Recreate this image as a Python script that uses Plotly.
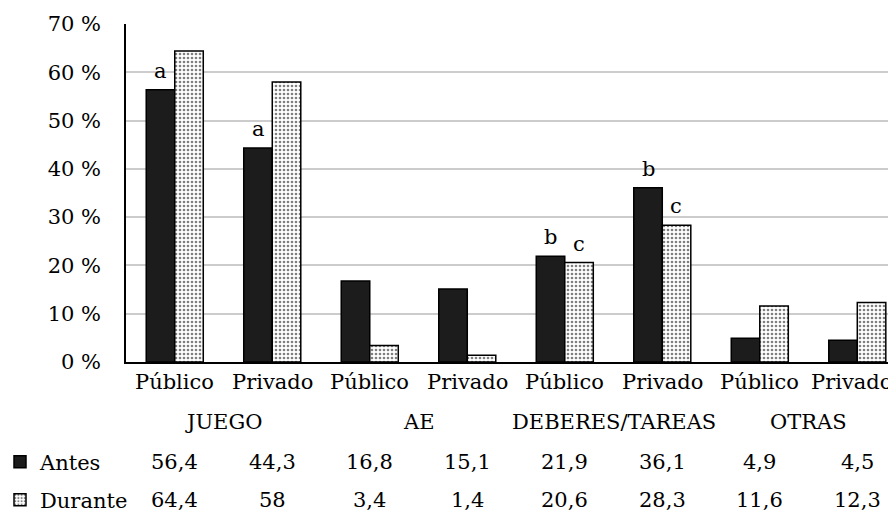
import plotly.graph_objects as go

subcats = ["Público", "Privado", "Público", "Privado", "Público", "Privado", "Público", "Privado"]
groups = ["JUEGO", "AE", "DEBERES/TAREAS", "OTRAS"]
antes = [56.4, 44.3, 16.8, 15.1, 21.9, 36.1, 4.9, 4.5]
durante = [64.4, 58, 3.4, 1.4, 20.6, 28.3, 11.6, 12.3]
antes_lbl = ["56,4", "44,3", "16,8", "15,1", "21,9", "36,1", "4,9", "4,5"]
durante_lbl = ["64,4", "58", "3,4", "1,4", "20,6", "28,3", "11,6", "12,3"]
sig_antes = ["a", "a", "", "", "b", "b", "", ""]
sig_durante = ["", "", "", "", "c", "c", "", ""]
yticks = [0, 10, 20, 30, 40, 50, 60, 70]
ytick_lbl = ["0 %", "10 %", "20 %", "30 %", "40 %", "50 %", "60 %", "70 %"]

FONT = "DejaVu Serif"
FS = 21
xs = list(range(len(subcats)))

# page body has an 8px margin, so the figure is laid out 8px up/left
OFF = 8
W, H = 896 - OFF, 512 - OFF
L = 126 - OFF
PW = W - L

fig = go.Figure()
fig.add_trace(go.Bar(
    x=xs, y=antes, name="Antes", legend="legend",
    marker=dict(color="#1c1c1c", line=dict(color="black", width=1.5)),
))
fig.add_trace(go.Bar(
    x=xs, y=durante, name="Durante", legend="legend2",
    marker=dict(color="white", line=dict(color="black", width=1.5),
                pattern=dict(shape=".", fgcolor="black", bgcolor="white", size=4, solidity=0.35)),
))

top, bottom = 24 - OFF, 362 - OFF
ph = bottom - top
def py(pix):
    return (bottom - (pix - OFF)) / ph

tf = dict(family=FONT, size=FS, color="black")
ann = []
for i in xs:
    if sig_antes[i]:
        ann.append(dict(x=i, y=antes[i], xref="x", yref="y", text=sig_antes[i], showarrow=False,
                        xshift=-14, yshift=5, yanchor="bottom", font=tf))
    if sig_durante[i]:
        ann.append(dict(x=i, y=durante[i], xref="x", yref="y", text=sig_durante[i], showarrow=False,
                        xshift=14, yshift=5, yanchor="bottom", font=tf))
    # category (tick) labels; the last one is nudged left to stay inside the frame
    ann.append(dict(x=i, y=py(382), xref="x", yref="paper", text=subcats[i], showarrow=False,
                    yanchor="middle", xshift=(-6 if i == len(xs) - 1 else 0), font=tf))
    ann.append(dict(x=i, y=py(462), xref="x", yref="paper", text=antes_lbl[i], showarrow=False,
                    yanchor="middle", font=tf))
    ann.append(dict(x=i, y=py(500), xref="x", yref="paper", text=durante_lbl[i], showarrow=False,
                    yanchor="middle", font=tf))
for g, name in enumerate(groups):
    ann.append(dict(x=2 * g + 0.5, y=py(422), xref="x", yref="paper", text=name, showarrow=False,
                    yanchor="middle", font=tf))

leg_x = (-8 - L) / PW
leg_common = dict(xref="paper", yref="paper", x=leg_x, xanchor="left", yanchor="middle",
                  bgcolor="rgba(0,0,0,0)", font=tf, itemwidth=30)

fig.update_layout(
    width=W, height=H,
    margin=dict(l=L, r=0, t=top, b=H - bottom, pad=0, autoexpand=False),
    paper_bgcolor="white", plot_bgcolor="white",
    barmode="group", bargap=0.415, bargroupgap=0,
    font=tf,
    annotations=ann,
    legend=dict(leg_common, y=py(462)),
    legend2=dict(leg_common, y=py(500)),
    showlegend=True,
)
fig.update_xaxes(
    range=[-0.5, 7.397], tickvals=xs, showticklabels=False, showgrid=False,
    showline=True, linecolor="black", linewidth=1.5, ticks="",
)
fig.update_yaxes(
    range=[0, 70], tickvals=yticks, ticktext=ytick_lbl, showgrid=True, gridcolor="#cccccc", gridwidth=1.5,
    zeroline=False, showline=True, linecolor="black", linewidth=1.5, ticks="", ticklabelstandoff=19,
    tickfont=tf,
)

fig.write_html("out.html")
